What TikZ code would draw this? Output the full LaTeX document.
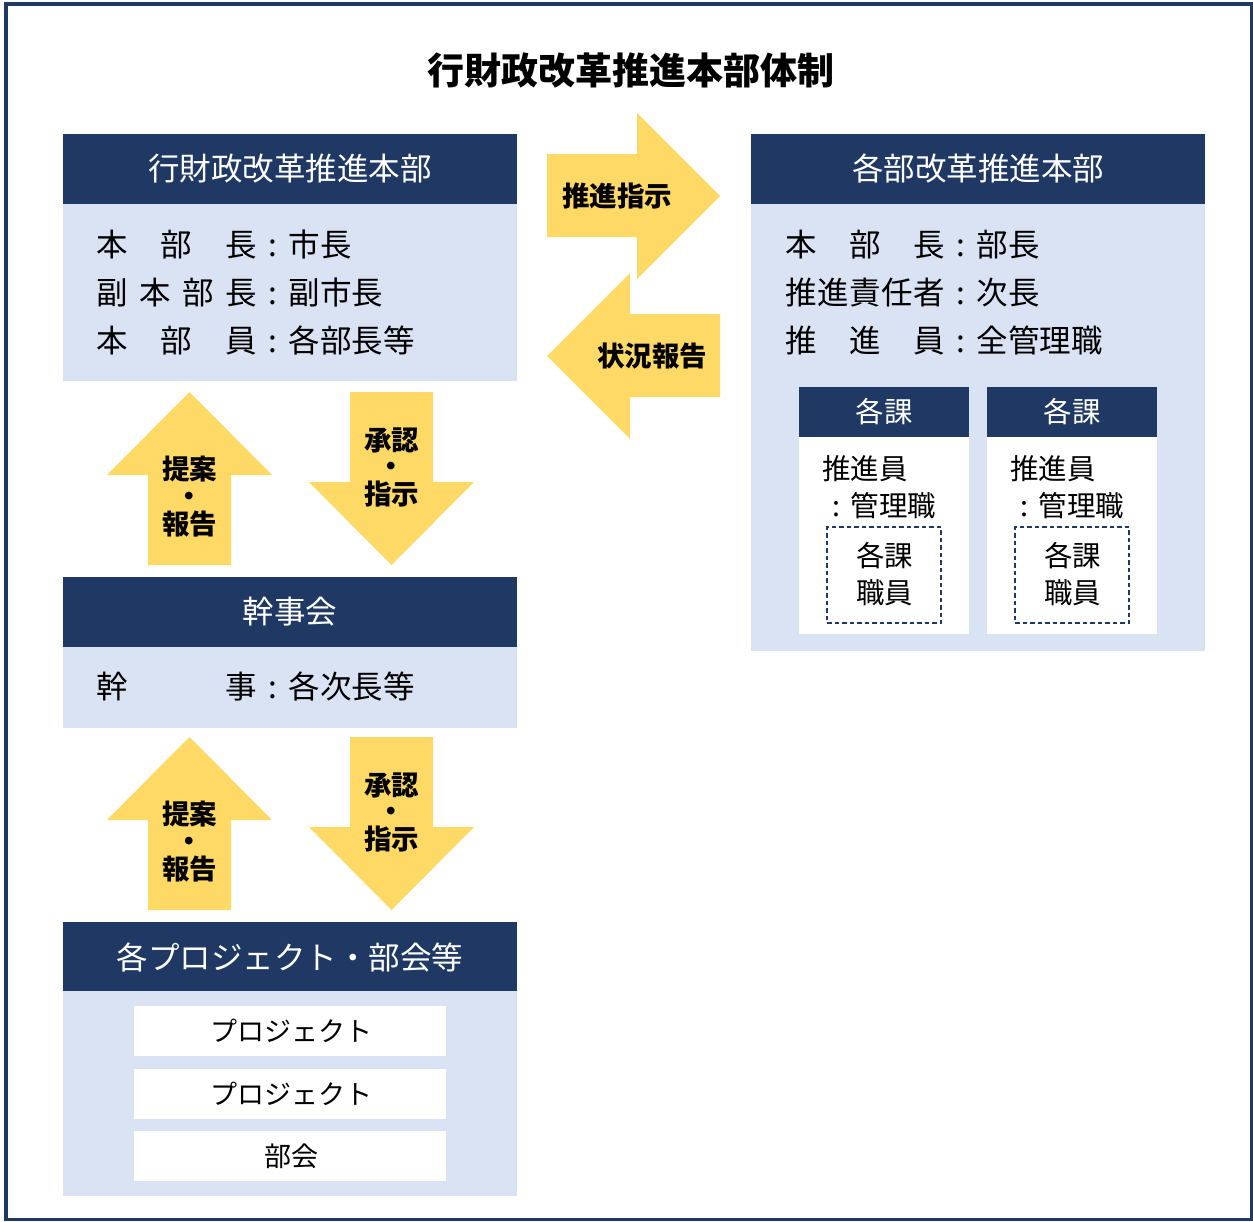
\documentclass[tikz,border=0pt]{standalone}
\usepackage{fontspec}
\setmainfont{Noto Sans CJK JP}
\definecolor{navy}{HTML}{1F3864}
\definecolor{pale}{HTML}{DAE3F3}
\definecolor{gold}{HTML}{FFD966}
\newcommand{\spread}[2]{\makebox[#1pt][s]{#2}}
\newcommand{\colonsep}{\makebox[1em]{:}}
\begin{document}
\begin{tikzpicture}[x=1pt,y=-1pt,
  box/.style={inner sep=0,outer sep=0,anchor=north west},
  hdrbox/.style={box,fill=navy},
  bodybox/.style={box,fill=pale},
  whitebox/.style={box,fill=white},
  dashbox/.style={box,draw=navy,line width=1.2pt,dash pattern=on 4.5pt off 3pt},
  arrowshape/.style={fill=gold},
  hdrtxt/.style={inner sep=0,text=white,font=\fontsize{31.5}{34}\selectfont,text height=27.7pt,text depth=3.8pt},
  bodytxt/.style={inner sep=0,anchor=west,font=\fontsize{31.5}{34}\selectfont,text height=27.7pt,text depth=3.8pt},
  smallhdr/.style={inner sep=0,text=white,font=\fontsize{28.5}{30}\selectfont,text height=25.1pt,text depth=3.4pt},
  smalltxt/.style={inner sep=0,font=\fontsize{28.5}{30}\selectfont,text height=25.1pt,text depth=3.4pt},
  projtxt/.style={inner sep=0,font=\fontsize{27}{29}\selectfont,text height=23.8pt,text depth=3.2pt},
  arrtxt/.style={inner sep=0,font=\fontsize{27.5}{29}\selectfont\bfseries,text height=24.2pt,text depth=3.3pt},
  titletxt/.style={inner sep=0,font=\fontsize{37}{40}\selectfont\bfseries,text height=32.6pt,text depth=4.4pt}
]
\useasboundingbox (0,0) rectangle (1253,1221);
\fill[white] (0,0) rectangle (1253,1221);
\draw[navy,line width=3.5pt] (6,4) rectangle (1251.5,1219.5);

% title
\node[titletxt] (title) at (630.5,70) {行財政改革推進本部体制};

% ---------- left top box
\node[hdrbox,minimum width=454pt,minimum height=70pt] (h1) at (63,134) {};
\node[bodybox,minimum width=454pt,minimum height=177pt] (b1) at (63,204) {};
\node[hdrtxt] (h1t) at (h1.center) {行財政改革推進本部};
\node[bodytxt] (l1a) at (96,245) {\spread{161}{本\hfill 部\hfill 長}\colonsep 市長};
\node[bodytxt] (l1b) at (96,293) {\spread{161}{副\hfill 本\hfill 部\hfill 長}\colonsep 副市長};
\node[bodytxt] (l1c) at (96,341) {\spread{161}{本\hfill 部\hfill 員}\colonsep 各部長等};

% ---------- right box
\node[hdrbox,minimum width=454pt,minimum height=70pt] (h2) at (751,134) {};
\node[bodybox,minimum width=454pt,minimum height=447pt] (b2) at (751,204) {};
\node[hdrtxt] (h2t) at (h2.center) {各部改革推進本部};
\node[bodytxt] (l2a) at (785,245) {\spread{160}{本\hfill 部\hfill 長}\colonsep 部長};
\node[bodytxt] (l2b) at (785,293) {\spread{160}{推\hfill 進\hfill 責\hfill 任\hfill 者}\colonsep 次長};
\node[bodytxt] (l2c) at (785,341) {\spread{160}{推\hfill 進\hfill 員}\colonsep 全管理職};

% sections
\foreach \nm/\x in {ka/799, kb/987}{
  \node[hdrbox,minimum width=170pt,minimum height=50pt] (\nm h) at (\x,387) {};
  \node[whitebox,minimum width=170pt,minimum height=197pt] (\nm b) at (\x,437) {};
  \node[smallhdr] (\nm ht) at (\nm h.center) {各課};
  \node[smalltxt,anchor=west] (\nm p) at (\x+23,469) {推進員};
  \node[smalltxt,anchor=west] (\nm m) at (\x+23,506) {\colonsep 管理職};
  \node[dashbox,minimum width=114pt,minimum height=96pt] (\nm d) at (\x+28,527) {};
  \node[smalltxt] (\nm d1) at (\x+85.5,556) {各課};
  \node[smalltxt] (\nm d2) at (\x+85.5,593) {職員};
}

% ---------- kanjikai
\node[hdrbox,minimum width=454pt,minimum height=70pt] (h3) at (63,577) {};
\node[bodybox,minimum width=454pt,minimum height=81pt] (b3) at (63,647) {};
\node[hdrtxt] (h3t) at (h3.center) {幹事会};
\node[bodytxt] (l3a) at (96,687) {\spread{161}{幹\hfill 事}\colonsep 各次長等};

% ---------- projects
\node[hdrbox,minimum width=454pt,minimum height=69pt] (h4) at (63,922) {};
\node[bodybox,minimum width=454pt,minimum height=205pt] (b4) at (63,991) {};
\node[hdrtxt] (h4t) at (290,957.5) {各プロジェクト・部会等};
\node[whitebox,minimum width=312pt,minimum height=50pt] (p1) at (134,1006) {};
\node[whitebox,minimum width=312pt,minimum height=50pt] (p2) at (134,1069) {};
\node[whitebox,minimum width=312pt,minimum height=50pt] (p3) at (134,1131) {};
\node[projtxt] (p1t) at (291,1031.5) {プロジェクト};
\node[projtxt] (p2t) at (291,1094) {プロジェクト};
\node[projtxt] (p3t) at (291,1156) {部会};

% ---------- arrows right/left
\fill[arrowshape] (547,154) -- (637,154) -- (637,113) -- (720,196) -- (637,279) -- (637,237) -- (547,237) -- cycle;
\fill[arrowshape] (720,314) -- (630,314) -- (630,273) -- (547,356) -- (630,439) -- (630,397) -- (720,397) -- cycle;
\node[arrtxt] (a1) at (617,196) {推進指示};
\node[arrtxt] (a2) at (652,356) {状況報告};

% ---------- vertical arrows
\foreach \dy/\nm in {0/u, 345/v}{
  \fill[arrowshape] (148,565+\dy) -- (148,475+\dy) -- (107,475+\dy) -- (189.5,392+\dy) -- (272,475+\dy) -- (231,475+\dy) -- (231,565+\dy) -- cycle;
  \fill[arrowshape] (350,392+\dy) -- (433,392+\dy) -- (433,482+\dy) -- (474,482+\dy) -- (391.5,565+\dy) -- (309,482+\dy) -- (350,482+\dy) -- cycle;
  \node[arrtxt] (\nm a1) at (189.5,469+\dy) {提案};
  \node[arrtxt] (\nm a2) at (189.5,496+\dy) {・};
  \node[arrtxt] (\nm a3) at (189.5,524+\dy) {報告};
  \node[arrtxt] (\nm b1) at (391.5,440+\dy) {承認};
  \node[arrtxt] (\nm b2) at (391.5,466+\dy) {・};
  \node[arrtxt] (\nm b3) at (391.5,494+\dy) {指示};
}
\end{tikzpicture}
\end{document}
